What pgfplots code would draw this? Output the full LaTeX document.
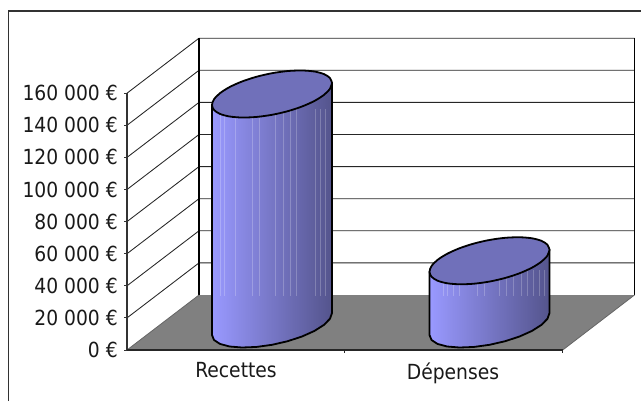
\documentclass[border=0pt]{standalone}
\usepackage{pgfplots}
\usepackage{pgfplotstable}
\usepackage{fontspec}
\setmainfont{DejaVu Sans Condensed}
\pgfplotsset{compat=1.18}
\definecolor{capc}{RGB}{112,112,186}
\definecolor{barL}{RGB}{153,153,255}
\definecolor{barM}{RGB}{122,122,210}
\definecolor{barR}{RGB}{84,84,140}
\definecolor{floorc}{RGB}{128,128,128}
\definecolor{framec}{RGB}{50,50,50}
\pgfplotstableread{
dx dy
60 11
57.96 16.01
51.96 19.93
42.43 22.49
30 23.51
15.53 22.94
0 20.8
-15.53 17.24
-30 12.51
-42.43 6.93
-51.96 0.87
-57.96 -5.25
-60 -11
-57.96 -16.01
-51.96 -19.93
-42.43 -22.49
-30 -23.51
-15.53 -22.94
0 -20.8
15.53 -17.24
30 -12.51
42.43 -6.93
51.96 -0.87
57.96 5.25
60 11
}\capshape
\pgfplotstableread{
dx dy h
-60 -11 1
-60 -11 0
-57.96 -16.01 0
-51.96 -19.93 0
-42.43 -22.49 0
-30 -23.51 0
-15.53 -22.94 0
0 -20.8 0
15.53 -17.24 0
30 -12.51 0
42.43 -6.93 0
51.96 -0.87 0
57.96 5.25 0
60 11 0
60 11 1
}\bodyshape
\newcommand\cyl[2]{%
  \addplot[draw=black,line width=1.35pt,line join=round,left color=barL,middle color=barM,right color=barR]
    table[x expr=\thisrow{dx}+#1,y expr=\thisrow{dy}*623.05+16200+\thisrow{h}*#2] {\bodyshape} -- cycle;
}
\newcommand\cylcap[2]{%
  \addplot[draw=black,line width=1.35pt,line join=round,fill=capc,smooth]
    table[x expr=\thisrow{dx}+#1,y expr=\thisrow{dy}*623.05+16200+#2] {\capshape} -- cycle;
}
\begin{document}
\begin{tikzpicture}
\begin{axis}[
  at={(0,0)},anchor=south west,
  scale only axis,width=385.5pt,height=262.5pt,
  xmin=127,xmax=641,ymin=0,ymax=218068,
  clip=false,unbounded coords=jump,
  scaled y ticks=false,scaled x ticks=false,
  axis lines*=left,axis line style={draw=none},
  ytick={0,20000,40000,60000,80000,100000,120000,140000,160000},
  yticklabels={0 €,20 000 €,40 000 €,60 000 €,80 000 €,100 000 €,120 000 €,140 000 €,160 000 €},
  xtick={236,453},xticklabels={Recettes,Dépenses},
  x tick style={draw=none},
  y tick style={draw=black!80,line width=0.7pt},
  major tick length=2.25pt,tick align=outside,
  tick label style={font=\fontsize{15.6}{15.6}\selectfont,inner sep=0pt,text=black!90},
  yticklabel style={xshift=-4.5pt},
  xticklabel style={yshift=-7pt},
]
% outer frame
\addplot[framec,line width=1pt,forget plot] coordinates {(8.5,-31776) (8.5,211214) (641,211214)};
% floor
\addplot[fill=floorc,draw=none] coordinates {(127,0) (199,34268) (634.5,34268) (562.7,0)} -- cycle;
% wall grid lines
\addplot[black!85,line width=0.65pt] table {
127 20000
199 54268
634.5 54268
nan nan
127 40000
199 74268
634.5 74268
nan nan
127 60000
199 94268
634.5 94268
nan nan
127 80000
199 114268
634.5 114268
nan nan
127 100000
199 134268
634.5 134268
nan nan
127 120000
199 154268
634.5 154268
nan nan
127 140000
199 174268
634.5 174268
nan nan
127 160000
199 194268
634.5 194268
};
% wall verticals and axis
\addplot[black,line width=0.8pt] coordinates {(199,34268) (199,194268)};
\addplot[black,line width=1.1pt] coordinates {(634.5,34268) (634.5,194268)};
\addplot[black!80,line width=0.8pt] coordinates {(127,0) (127,160000)};
\addplot[black!60,line width=0.6pt] coordinates {(127,0) (199,34268)};
\addplot[black!60,line width=0.6pt] coordinates {(562.7,0) (634.5,34268)};
\addplot[black!85,line width=1.2pt] coordinates {(127,0) (562.7,0)};
\addplot[black!85,line width=0.7pt] table {
344.8 0
344.8 -2000
nan nan
562.7 0
562.7 -2000
};
% cylinders
\cyl{272}{143300}
\addplot[white,opacity=0.22,line width=0.6pt] table {
220 150000
220 33600
nan nan
224.5 150000
224.5 33600
nan nan
235.5 150000
235.5 33600
nan nan
252.5 150000
252.5 33600
nan nan
259.5 150000
259.5 33600
nan nan
275 150000
275 33600
nan nan
283.5 150000
283.5 33600
nan nan
290 150000
290 33600
nan nan
296.5 150000
296.5 33600
nan nan
315 150000
315 33600
nan nan
320 150000
320 33600
nan nan
325 150000
325 33600
};
\cylcap{272}{143300}
\cyl{489.5}{39400}
\addplot[white,opacity=0.22,line width=0.6pt] table {
443.5 50000
443.5 33600
nan nan
447.5 50000
447.5 33600
nan nan
453.5 50000
453.5 33600
nan nan
459.5 50000
459.5 33600
nan nan
477.5 50000
477.5 33600
nan nan
484.5 50000
484.5 33600
nan nan
499.5 50000
499.5 33600
nan nan
506 50000
506 33600
nan nan
513.5 50000
513.5 33600
nan nan
521 50000
521 33600
nan nan
527 50000
527 33600
nan nan
533 50000
533 33600
nan nan
539 50000
539 33600
nan nan
544 50000
544 33600
};
\cylcap{489.5}{39400}
\end{axis}
\pgfresetboundingbox
\path[use as bounding box] (-95.25pt,-38.25pt) rectangle (385.5pt,262.5pt);
\end{tikzpicture}
\end{document}
